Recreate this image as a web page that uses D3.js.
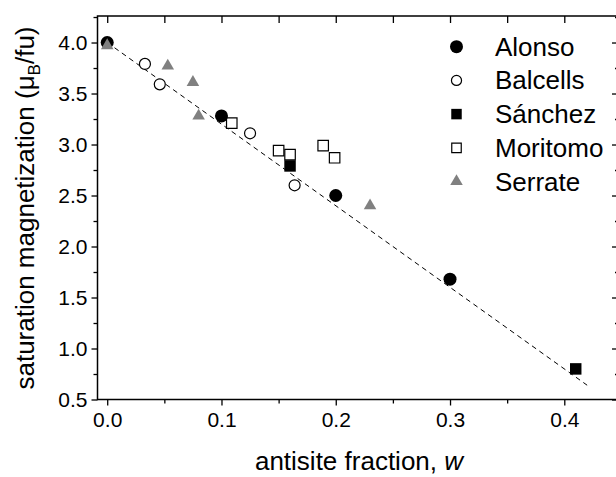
<!DOCTYPE html>
<html lang="en">
<head>
    <meta charset="UTF-8">
    <title>Saturation magnetization vs antisite fraction</title>
    <script src="https://d3js.org/d3.v7.min.js"></script>
    <style>
        body, html {
            margin: 0;
            padding: 0;
            background: #fff;
            font-family: "Liberation Sans", Arial, sans-serif;
        }
        svg { display: block; }
    </style>
</head>
<body>
<div id="chart"></div>
<script>
// data
const alonsoW = [0, 0.1, 0.2, 0.3];
const alonsoM = [4.0, 3.28, 2.5, 1.68];
const balcellsW = [0.033, 0.046, 0.125, 0.164];
const balcellsM = [3.79, 3.59, 3.11, 2.60];
const sanchezW = [0.16, 0.41];
const sanchezM = [2.79, 0.80];
const moritomoW = [0.109, 0.15, 0.16, 0.189, 0.199];
const moritomoM = [3.21, 2.94, 2.90, 2.99, 2.87];
const serrateW = [0, 0.053, 0.075, 0.08, 0.23];
const serrateM = [3.97, 3.77, 3.61, 3.28, 2.40];
const fitW = [0, 0.42];
const fitM = [4.0, 0.64];
const xTicks = [0, 0.1, 0.2, 0.3, 0.4];
const yTicks = [0.5, 1.0, 1.5, 2.0, 2.5, 3.0, 3.5, 4.0];

const width = 616, height = 477;
const margin = { top: 16, right: -2, bottom: 77.5, left: 97.5 };
const innerW = width - margin.left - margin.right,
      innerH = height - margin.top - margin.bottom;

const svg = d3.select("#chart").append("svg")
    .attr("width", width)
    .attr("height", height);

const g = svg.append("g")
    .attr("transform", `translate(${margin.left},${margin.top})`);

const x = d3.scaleLinear().domain([-0.0085, 0.447]).range([0, innerW]);
const y = d3.scaleLinear().domain([0.5, 4.26]).range([innerH, 0]);

const xMinor = d3.range(0.05, 0.45, 0.1);
const yMinor = d3.range(0.75, 4.26, 0.5);

function styleAxis(sel) {
    sel.select(".domain").remove();
    sel.selectAll(".tick line").attr("stroke", "#000").attr("stroke-width", 1.3);
    sel.selectAll("text").attr("font-size", 21).attr("fill", "#000")
        .attr("font-family", "'Liberation Sans', Arial, sans-serif");
}

// bottom
g.append("g").attr("transform", `translate(0,${innerH})`)
    .call(d3.axisBottom(x).tickValues(xTicks).tickFormat(d3.format(".1f")).tickSize(6).tickPadding(7))
    .call(styleAxis);
g.append("g").attr("transform", `translate(0,${innerH})`)
    .call(d3.axisBottom(x).tickValues(xMinor).tickFormat("").tickSize(4))
    .call(styleAxis);
// top (inward)
g.append("g")
    .call(d3.axisBottom(x).tickValues(xTicks).tickFormat("").tickSize(7))
    .call(styleAxis);
g.append("g")
    .call(d3.axisBottom(x).tickValues(xMinor).tickFormat("").tickSize(7))
    .call(styleAxis);
// left
g.append("g")
    .call(d3.axisLeft(y).tickValues(yTicks).tickFormat(d3.format(".1f")).tickSize(6).tickPadding(4))
    .call(styleAxis);
g.append("g")
    .call(d3.axisLeft(y).tickValues(yMinor).tickFormat("").tickSize(4))
    .call(styleAxis);
// right (inward)
g.append("g").attr("transform", `translate(${innerW},0)`)
    .call(d3.axisLeft(y).tickValues(yTicks).tickFormat("").tickSize(6))
    .call(styleAxis);
g.append("g").attr("transform", `translate(${innerW},0)`)
    .call(d3.axisLeft(y).tickValues(yMinor).tickFormat("").tickSize(3))
    .call(styleAxis);

// frame
g.append("rect")
    .attr("width", innerW).attr("height", innerH)
    .attr("fill", "none").attr("stroke", "#000").attr("stroke-width", 1.5);

// dashed fit line
g.append("path")
    .datum(d3.zip(fitW, fitM))
    .attr("d", d3.line().x(d => x(d[0])).y(d => y(d[1])))
    .attr("fill", "none")
    .attr("stroke", "#000")
    .attr("stroke-width", 1)
    .attr("stroke-dasharray", "5,4");

const series = [
    { name: "Balcells", w: balcellsW, m: balcellsM, type: d3.symbolCircle, size: 95, fill: "#fff", stroke: "#000" },
    { name: "Moritomo", w: moritomoW, m: moritomoM, type: d3.symbolSquare, size: 110, fill: "#fff", stroke: "#000" },
    { name: "Alonso", w: alonsoW, m: alonsoM, type: d3.symbolCircle, size: 133, fill: "#000", stroke: "none" },
    { name: "Sánchez", w: sanchezW, m: sanchezM, type: d3.symbolSquare, size: 132, fill: "#000", stroke: "none" },
    { name: "Serrate", w: serrateW, m: serrateM, type: d3.symbolTriangle, size: 68, fill: "#808080", stroke: "none" }
];

series.forEach(s => {
    g.selectAll(null)
        .data(d3.zip(s.w, s.m))
        .enter().append("path")
        .attr("transform", d => `translate(${x(d[0])},${y(d[1])})`)
        .attr("d", d3.symbol().type(s.type).size(s.size))
        .attr("fill", s.fill)
        .attr("stroke", s.stroke)
        .attr("stroke-width", 1.2);
});

// legend
const legendOrder = ["Alonso", "Balcells", "Sánchez", "Moritomo", "Serrate"];
const legendSize = { Alonso: 133, Balcells: 80, "Sánchez": 110, Moritomo: 90, Serrate: 68 };
const legend = svg.append("g");
legendOrder.forEach((name, i) => {
    const s = series.find(d => d.name === name);
    const cy = 46.7 + i * 33.7;
    legend.append("path")
        .attr("transform", `translate(456.5,${cy})`)
        .attr("d", d3.symbol().type(s.type).size(legendSize[name]))
        .attr("fill", s.fill)
        .attr("stroke", s.stroke)
        .attr("stroke-width", 1.2);
    legend.append("text")
        .attr("x", 495)
        .attr("y", cy + 9)
        .attr("font-size", 26)
        .text(name);
});

// axis titles
svg.append("text")
    .attr("x", 359)
    .attr("y", 470)
    .attr("text-anchor", "middle")
    .attr("font-size", 26)
    .text("antisite fraction, ")
    .append("tspan")
    .attr("font-style", "italic")
    .text("w");

const yt = svg.append("text")
    .attr("transform", "translate(34,208) rotate(-90)")
    .attr("text-anchor", "middle")
    .attr("font-size", 26);
yt.append("tspan").text("saturation magnetization (μ");
yt.append("tspan").attr("font-size", 17).attr("dy", 6).text("B");
yt.append("tspan").attr("dy", -6).text("/fu)");
</script>
</body>
</html>
